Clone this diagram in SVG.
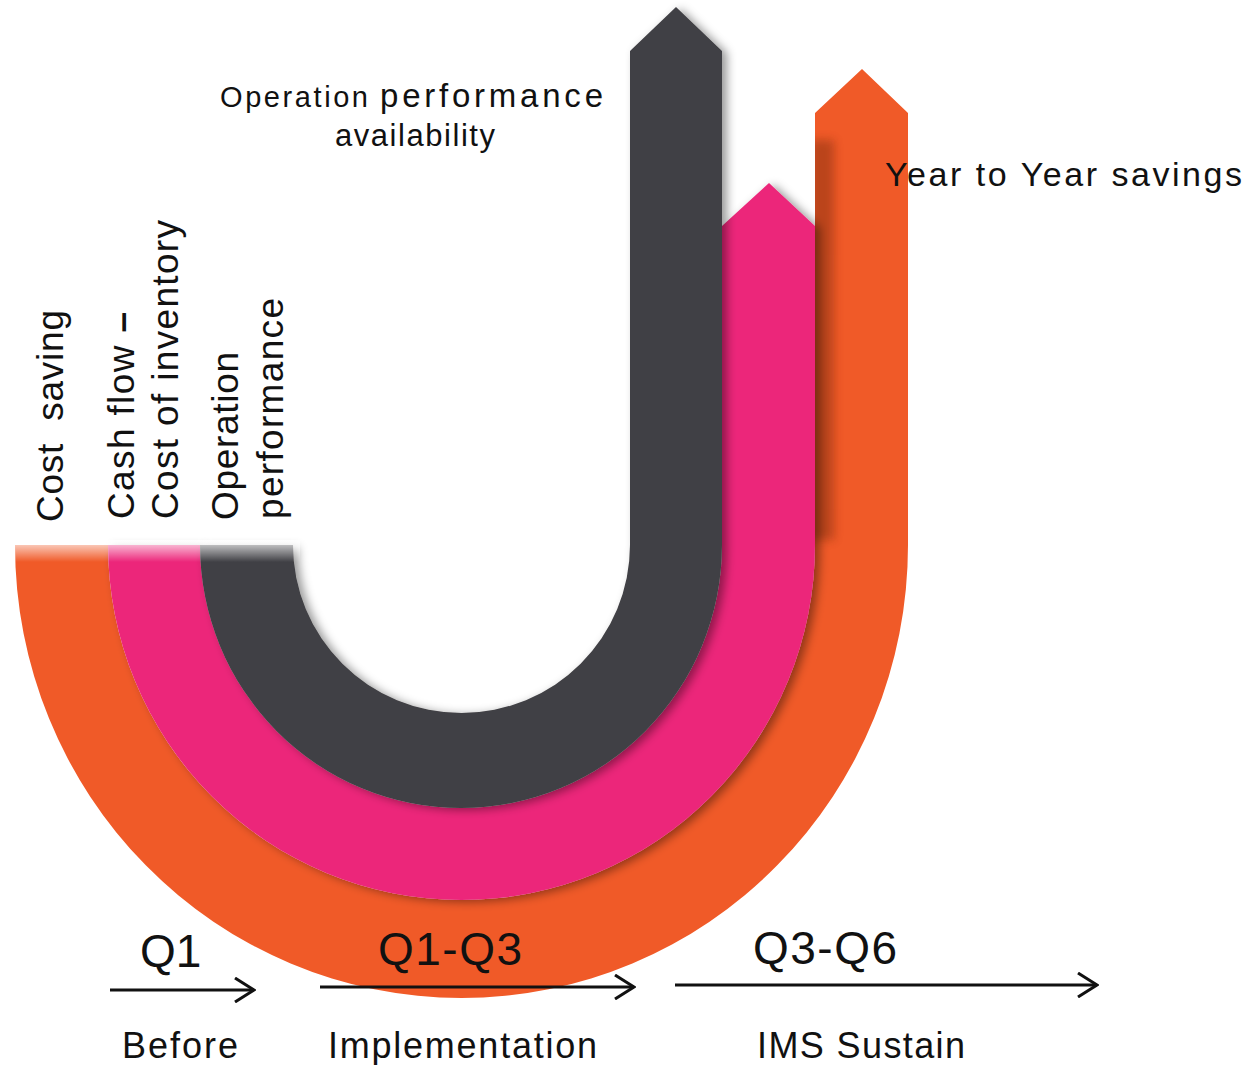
<svg xmlns="http://www.w3.org/2000/svg" width="1246" height="1065" viewBox="0 0 1246 1065">
  <style>
    text { font-family: "Liberation Sans", Arial, sans-serif; fill: #111; }
    .conn { stroke: #111; stroke-width: 3; fill: none; }
  </style>
  <defs>
    <filter id="sh" x="-10%" y="-10%" width="120%" height="120%">
      <feDropShadow dx="5" dy="2" stdDeviation="5" flood-color="#000" flood-opacity="0.4"/>
    </filter>
    <filter id="blur6" x="-50%" y="-10%" width="200%" height="120%">
      <feGaussianBlur stdDeviation="5"/>
    </filter>
    <clipPath id="clipOrange">
      <path d="M15,545 A446.5,453 0 0 0 908,545 L908,113 L862,69 L815,113 L815,545 A353.5,355 0 0 1 108,545 Z"/>
    </clipPath>
    <linearGradient id="fadeTop" x1="0" y1="0" x2="0" y2="1">
      <stop offset="0" stop-color="#fff" stop-opacity="0.85"/>
      <stop offset="1" stop-color="#fff" stop-opacity="0"/>
    </linearGradient>
    <marker id="ah" viewBox="0 0 22 26" refX="20" refY="13" markerWidth="22" markerHeight="26" markerUnits="userSpaceOnUse" orient="auto">
      <path d="M1,1 L20,13 L1,25" fill="none" stroke="#111" stroke-width="3"/>
    </marker>
  </defs>

  <g id="band-orange">
    <path d="M15,545 A446.5,453 0 0 0 908,545 L908,113 L862,69 L815,113 L815,545 A353.5,355 0 0 1 108,545 Z" fill="#F05A28"/>
    <g clip-path="url(#clipOrange)">
      <rect x="810" y="140" width="24" height="400" fill="#7a2a10" opacity="0.45" filter="url(#blur6)"/>
    </g>
  </g>
  <g id="band-pink">
    <path d="M108,545 A353.5,355 0 0 0 815,545 L815,226 L769,183 L722,226 L722,545 A261,263 0 0 1 200,545 Z" fill="#EC287A" filter="url(#sh)"/>
  </g>
  <g id="band-gray">
    <path d="M200,545 A261,263 0 0 0 722,545 L722,51 L676,7 L630,51 L630,545 A168.5,168 0 0 1 293,545 Z" fill="#414044" filter="url(#sh)"/>
  </g>
  <rect x="10" y="540" width="290" height="22" fill="url(#fadeTop)"/>

  <g id="label-top">
    <text x="220" y="107" font-size="29" textLength="148" lengthAdjust="spacing">Operation</text>
    <text x="380" y="107" font-size="33" textLength="223" lengthAdjust="spacing">performance</text>
    <text x="335" y="146" font-size="31" textLength="160" lengthAdjust="spacing">availability</text>
  </g>
  <g id="label-year">
    <text x="885" y="186" font-size="34" textLength="357" lengthAdjust="spacing">Year to Year savings</text>
  </g>
  <g id="label-cost">
    <text transform="translate(63,522) rotate(-90)" font-size="37" textLength="212" lengthAdjust="spacing" xml:space="preserve">Cost  saving</text>
  </g>
  <g id="label-cash">
    <text transform="translate(134,519) rotate(-90)" font-size="37" textLength="207" lengthAdjust="spacing">Cash flow <tspan font-weight="bold">–</tspan></text>
    <text transform="translate(178,519) rotate(-90)" font-size="37" textLength="299" lengthAdjust="spacing">Cost of inventory</text>
  </g>
  <g id="label-operation">
    <text transform="translate(238,520) rotate(-90)" font-size="37" textLength="168" lengthAdjust="spacing">Operation</text>
    <text transform="translate(283,519) rotate(-90)" font-size="37" textLength="221" lengthAdjust="spacing">performance</text>
  </g>

  <g id="connectors">
    <line class="conn" x1="110" y1="990" x2="254" y2="990" marker-end="url(#ah)"/>
    <line class="conn" x1="320" y1="987" x2="634" y2="987" marker-end="url(#ah)"/>
    <line class="conn" x1="675" y1="985" x2="1097" y2="985" marker-end="url(#ah)"/>
  </g>

  <g id="stage-q1">
    <text x="140" y="967" font-size="46">Q1</text>
    <text x="122" y="1058" font-size="36" textLength="116" lengthAdjust="spacing">Before</text>
  </g>
  <g id="stage-q1q3">
    <text x="378" y="965" font-size="46" textLength="144" lengthAdjust="spacing">Q1-Q3</text>
    <text x="328" y="1058" font-size="36" textLength="269" lengthAdjust="spacing">Implementation</text>
  </g>
  <g id="stage-q3q6">
    <text x="753" y="964" font-size="46" textLength="144" lengthAdjust="spacing">Q3-Q6</text>
    <text x="757" y="1058" font-size="36" textLength="208" lengthAdjust="spacing">IMS Sustain</text>
  </g>
</svg>
